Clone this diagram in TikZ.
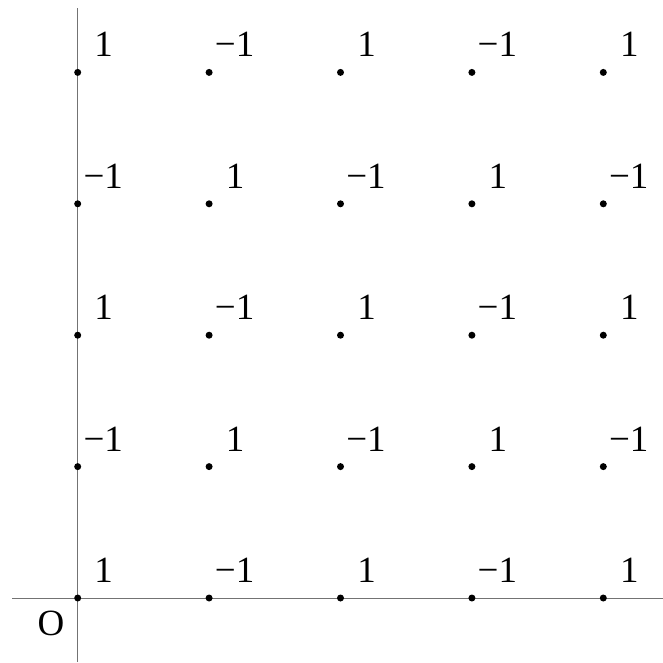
\documentclass[tikz,border=0pt]{standalone}
\usepackage{fontspec}
\setmainfont{Liberation Serif}
\newfontfamily\lblfont{Liberation Serif}
\begin{document}
\begin{tikzpicture}[x=1pt,y=-1pt,
  axisline/.style={draw=black!55,line width=1pt},
  gdot/.style={circle,fill=black,inner sep=0pt,minimum size=7pt},
  lbl/.style={anchor=base,inner sep=0pt,font=\lblfont\fontsize{37}{42}\selectfont},
  orig/.style={anchor=base,inner sep=0pt,font=\lblfont\fontsize{37}{42}\selectfont}]
\useasboundingbox (0,0) rectangle (663,662);
% axes
\coordinate (xl) at (12,598);
\coordinate (xr) at (663,598);
\coordinate (yt) at (77.7,8);
\coordinate (yb) at (77.7,662);
\draw[axisline] (xl) -- (xr);
\draw[axisline] (yt) -- (yb);
% dots and labels
\foreach \i in {0,...,4}{
  \foreach \j in {0,...,4}{
    \pgfmathtruncatemacro{\s}{mod(\i+\j,2)}
    \node[gdot] (d-\i-\j) at ({77.7+131.4*\i},{598-131.4*\j}) {};
    \ifnum\s=0
      \node[lbl] (l-\i-\j) at ([shift={(26,-15.5)}]d-\i-\j) {1};
    \else
      \node[lbl] (l-\i-\j) at ([shift={(25.5,-15.5)}]d-\i-\j) {\char"2212 1};
    \fi
  }
}
\node[orig] (O) at (51,635.5) {O};
\end{tikzpicture}
\end{document}
